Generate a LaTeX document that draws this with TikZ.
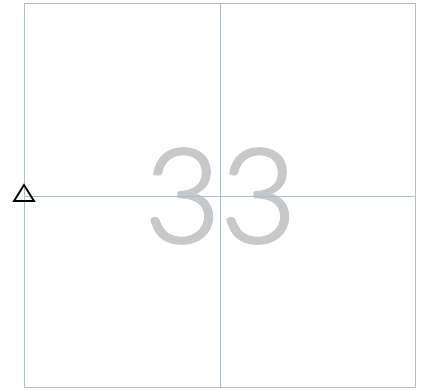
\documentclass[tikz,border=0pt]{standalone}
\usepackage{fontspec}
\setmainfont{Liberation Sans}
\newfontfamily\thinfont{Lato Light}
\definecolor{gridline}{RGB}{175,190,196}
\definecolor{digitgray}{RGB}{198,200,201}
\newcommand{\boldenstroke}[1]{\special{pdf:literal q 2 Tr 2.8 w 1 J 1 j 0.776 0.784 0.788 RG}#1\special{pdf:literal Q}}
\tikzset{
  gridstyle/.style={draw=gridline, line width=0.9pt},
  marker/.style={draw=black, line width=1.8pt, line join=miter},
  bignum/.style={text=digitgray, font=\thinfont\fontsize{131}{131}\selectfont, inner sep=0pt, anchor=center}
}
\begin{document}
\begin{tikzpicture}[x=1pt,y=-1pt]
\useasboundingbox (0,0) rectangle (422,390);
\node[bignum] (num) at (220.5,196) {\boldenstroke{33}};
\coordinate (tl) at (24,3);
\coordinate (br) at (415,387);
\coordinate (tm) at (220,3);
\coordinate (bm) at (220,387);
\coordinate (lm) at (24,196);
\coordinate (rm) at (415,196);
\draw[gridstyle] (tl) rectangle (br);
\draw[gridstyle] (tm) -- (bm);
\draw[gridstyle] (lm) -- (rm);
\coordinate (apex) at (24,185);
\coordinate (bl) at (14,201);
\coordinate (brt) at (34,201);
\draw[marker] (apex) -- (brt) -- (bl) -- cycle;
\end{tikzpicture}
\end{document}
